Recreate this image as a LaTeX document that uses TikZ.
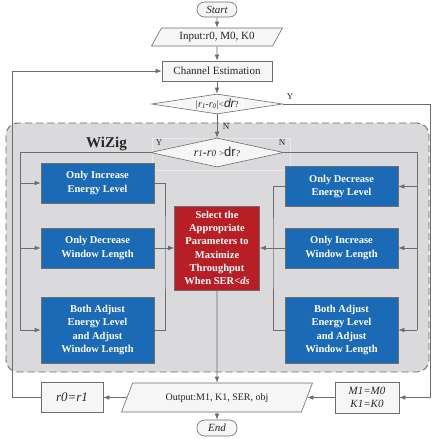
\documentclass[tikz,border=0pt]{standalone}
\usepackage{fontspec}
\setmainfont{Liberation Serif}
\setsansfont{Liberation Sans}
\usetikzlibrary{arrows.meta,shapes.geometric,positioning}
\newcommand{\flatlabel}[1]{\raisebox{-3.5pt}[0pt][0pt]{\makebox[0pt]{#1}}}

\begin{document}
\begin{tikzpicture}[
  x=1pt,y=-1pt,
  font=\fontsize{10}{12}\selectfont,
  line width=0.6pt,
  term/.style={draw=wzLine,fill=wzPale,text=wzText,rounded corners=7.5pt,font=\fontsize{11}{12}\selectfont\itshape,minimum width=40pt,minimum height=15pt,inner sep=0pt},
  proc/.style={draw=wzLine,fill=wzPale,text=wzText,align=center,inner sep=1pt},
  io/.style={trapezium,trapezium left angle=#1,trapezium right angle={180-#1},trapezium stretches body,draw=wzLine,fill=wzPale,text=wzText,text height=7pt,text depth=2pt},
  dec/.style={diamond,draw=wzLine,fill=wzPale,text=wzText,inner sep=0pt},
  blue/.style={draw=wzLine,fill=wzBlue,text=white,font=\bfseries\fontsize{10.5}{13.5}\selectfont,align=center,minimum width=113pt,minimum height=40pt,inner sep=1pt},
  sel/.style={draw=wzLine,fill=wzRed,text=white,font=\bfseries\fontsize{10.5}{13.3}\selectfont,align=center,minimum width=85pt,minimum height=84pt,inner sep=1pt},
  region/.style={draw=wzLine,fill=wzGray,dash pattern=on 7pt off 4pt,rounded corners=12pt,line width=0.9pt},
  lbl/.style={text=wzText,font=\fontsize{9}{10}\selectfont,inner sep=0pt},
  arr/.style={-{Latex[length=6pt,width=4.5pt]},draw=wzLine},
  lin/.style={draw=wzLine},
]
\definecolor{wzLine}{HTML}{6D6D6D}
\definecolor{wzPale}{HTML}{F6F6F6}
\definecolor{wzText}{HTML}{262626}
\definecolor{wzBlue}{HTML}{1B6AB5}
\definecolor{wzRed}{HTML}{B81E25}
\definecolor{wzGray}{HTML}{DADADC}
\definecolor{wzFaint}{HTML}{E9E9EA}
\useasboundingbox (0,0) rectangle (433,439);

\node[term] (start) at (217,9.5) {Start};
\node[io=61,minimum width=131pt,inner ysep=4.5pt,font=\fontsize{11}{12}\selectfont] (input) at (217,37) {Input:r0, M0, K0};
\node[proc,minimum width=110pt,minimum height=20pt,font=\fontsize{11}{12}\selectfont] (chest) at (217,71) {Channel Estimation};
\node[dec,minimum width=131pt,minimum height=20pt] (cond1) at (217,104) {\flatlabel{\itshape |r\raisebox{-0.6pt}{\scriptsize 1}-r\raisebox{-0.6pt}{\scriptsize 0}|\upshape{\small<}{\sffamily\large\itshape dr}{\small ?}}};

\node[region,minimum width=423pt,minimum height=249pt] (wizig) at (217.5,247.5) {};
\node[font=\bfseries\fontsize{15}{15}\selectfont,text=wzText] (wzname) at (106.5,144) {WiZig};
\node[draw=wzFaint,minimum width=138pt,minimum height=32pt] (hint) at (221,154) {};
\node[dec,minimum width=133pt,minimum height=29pt] (cond2) at (217,152.5) {\flatlabel{\fontsize{12}{12}\selectfont\itshape r{\small 1}-r{\small 0} \upshape{\small>}{\sffamily\fontsize{13}{13}\selectfont dr}{\small\itshape ?}}};

\node[lbl] (yes1) at (290,97) {Y};
\node[lbl] (no1) at (226,127) {N};
\node[lbl] (yes2) at (159,143) {Y};
\node[lbl] (no2) at (282,143) {N};

\node[blue] (incE) at (97.5,183) {Only Increase\\Energy Level};
\node[blue] (decW) at (97.5,248) {Only Decrease\\Window Length};
\node[blue,minimum height=66pt] (bothL) at (97.5,330) {Both Adjust\\Energy Level\\and Adjust\\Window Length};
\node[blue] (decE) at (341.5,186.5) {Only Decrease\\Energy Level};
\node[blue] (incW) at (341.5,248) {Only Increase\\Window Length};
\node[blue,minimum height=66pt] (bothR) at (341.5,330) {Both Adjust\\Energy Level\\and Adjust\\Window Length};
\node[sel] (select) at (217,248) {Select the\\Appropriate\\Parameters to\\Maximize\\Throughput\\When SER<\textit{ds}};

\node[io=69,minimum width=191pt,inner ysep=10pt] (output) at (217,397.5) {Output:M1, K1, SER, obj};
\node[proc,minimum width=62pt,minimum height=30pt,font=\fontsize{13}{14}\selectfont\itshape] (reset) at (72,397.5) {r0=r1};
\node[proc,minimum width=64pt,minimum height=31pt,font=\fontsize{11}{13}\selectfont\itshape] (keep) at (367,397.5) {M1=M0\\K1=K0};
\node[term,minimum height=16pt] (end) at (217,428) {End};

\coordinate (rout) at (430,104);
\coordinate (lbus) at (20,330);
\coordinate (rbus) at (417,330);
\coordinate (ljoin) at (165,248);
\coordinate (rjoin) at (273,248);
\coordinate (back) at (12,397.5);

\draw[arr] (start) -- (input);
\draw[arr] (input) -- (chest);
\draw[arr] (chest) -- (cond1);
\draw[arr] (cond1) -- (cond2);
\draw[arr] (cond1.east) -- (rout) |- (keep.east);

\draw[lin] (cond2.west) -| (lbus);
\draw[arr] (incE.west -| lbus) -- (incE.west);
\draw[arr] (decW.west -| lbus) -- (decW.west);
\draw[arr] (lbus) -- (bothL.west);
\draw[lin] (cond2.east) -| (rbus);
\draw[arr] (decE.east -| rbus) -- (decE.east);
\draw[arr] (incW.east -| rbus) -- (incW.east);
\draw[arr] (rbus) -- (bothR.east);

\draw[lin] (incE.east) -| (ljoin) |- (bothL.east);
\draw[arr] (decW) -- (select);
\draw[lin] (decE.west) -| (rjoin) |- (bothR.west);
\draw[arr] (incW) -- (select);

\draw[arr] (select) -- (output);
\draw[arr] (keep) -- (output);
\draw[arr] (output) -- (reset);
\draw[arr] (output) -- (end);
\draw[arr] (reset.west) -- (back) |- (chest.west);
\end{tikzpicture}
\end{document}
